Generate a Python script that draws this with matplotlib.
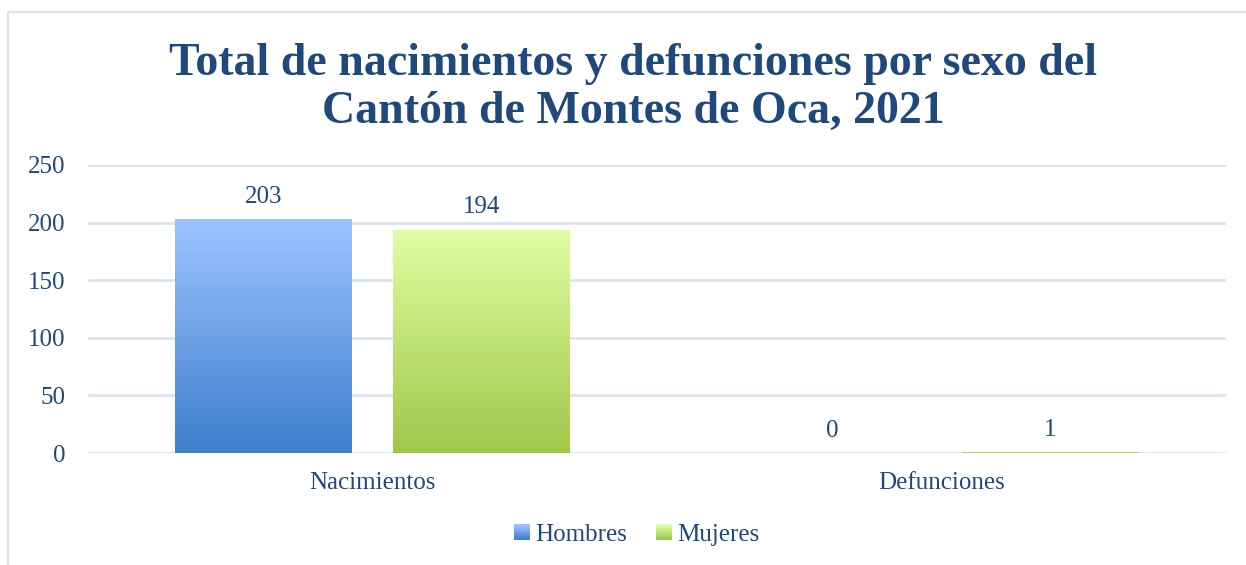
import numpy as np
import matplotlib
matplotlib.use("Agg")
import matplotlib.pyplot as plt
from matplotlib.colors import LinearSegmentedColormap
from matplotlib.patches import Rectangle, Patch
from matplotlib.legend_handler import HandlerBase

categories = ["Nacimientos", "Defunciones"]
series_names = ["Hombres", "Mujeres"]
hombres = [203, 0]
mujeres = [194, 1]
yticks = [0, 50, 100, 150, 200, 250]

title = "Total de nacimientos y defunciones por sexo del\nCantón de Montes de Oca, 2021"

text_color = "#1F497D"
grid_color = "#D9E3F1"
blue_top, blue_bot = "#9CC3FF", "#3E7FCC"
green_top, green_bot = "#DEFFA2", "#9FC74A"

plt.rcParams['font.family'] = ['Liberation Serif', 'DejaVu Serif']

fig = plt.figure(figsize=(12.46, 5.65), dpi=100)
W, H = 1246, 565
ax = fig.add_axes([88 / W, 1 - 453 / H, (1226 - 88) / W, (453 - 165) / H])

# border around chart
fig.patches.append(Rectangle((8 / W, -0.1), 1.2, 1 - 12 / H + 0.1, transform=fig.transFigure,
                             fill=False, edgecolor="#D5E2F2", linewidth=1.5))

x = np.arange(len(categories))
bw = 0.311
off = 0.1916

def gradient_bars(xs, vals, top, bot):
    bars = ax.bar(xs, vals, width=bw, color="none", edgecolor="none", zorder=3)
    cmap = LinearSegmentedColormap.from_list("g", [bot, top])
    grad = np.linspace(0, 1, 256).reshape(-1, 1)
    for b in bars:
        x0, y0 = b.get_x(), b.get_y()
        w, h = b.get_width(), b.get_height()
        if h <= 0:
            continue
        im = ax.imshow(grad, cmap=cmap, origin="lower", aspect="auto",
                       extent=(x0, x0 + w, y0, y0 + h), zorder=3,
                       interpolation="bilinear")
        im.set_clip_path(b)
    return bars

b1 = gradient_bars(x - off, hombres, blue_top, blue_bot)
b2 = gradient_bars(x + off, mujeres, green_top, green_bot)

for xs, vals in [(x - off, hombres), (x + off, mujeres)]:
    for xi, v in zip(xs, vals):
        ax.annotate(f"{v}", (xi, v), xytext=(0, 8), textcoords="offset points",
                    ha="center", va="bottom", fontsize=18, color=text_color)

ax.set_xlim(-0.5, 1.5)
ax.set_ylim(0, 250)
ax.set_yticks(yticks)
ax.set_xticks(x)
ax.set_xticklabels(categories)
ax.tick_params(axis="both", length=0, labelsize=18, colors=text_color)
ax.tick_params(axis="y", pad=16)
ax.tick_params(axis="x", pad=14)
for lab in ax.get_yticklabels():
    lab.set_horizontalalignment("right")
ax.grid(axis="y", color=grid_color, linewidth=2)
ax.set_axisbelow(True)
for s in ax.spines.values():
    s.set_visible(False)
ax.set_facecolor("none")

fig.text(633 / W, 1 - 88 / H, title, ha="center", va="center", fontsize=33,
         fontweight="bold", color=text_color, linespacing=1.2)


class GradientHandler(HandlerBase):
    def __init__(self, top, bot, n=12):
        super().__init__()
        self.top, self.bot, self.n = top, bot, n

    def create_artists(self, legend, orig_handle, xdescent, ydescent, width, height,
                       fontsize, trans):
        cmap = LinearSegmentedColormap.from_list("lg", [self.bot, self.top])
        side = min(width, height) * 1.15
        x0 = -xdescent + (width - side) / 2
        y0 = -ydescent + (height - side) / 2
        arts = []
        for i in range(self.n):
            r = Rectangle((x0, y0 + side * i / self.n), side, side / self.n + 0.3,
                          facecolor=cmap(i / (self.n - 1)), edgecolor="none",
                          transform=trans)
            arts.append(r)
        return arts


h1 = Patch(facecolor=blue_bot)
h2 = Patch(facecolor=green_bot)
fig.legend([h1, h2], series_names, loc="center", bbox_to_anchor=(637 / W, 1 - 535 / H),
           ncol=2, frameon=False, fontsize=18, labelcolor=text_color,
           handlelength=0.55, handleheight=0.55, handletextpad=0.25, columnspacing=1.2,
           handler_map={h1: GradientHandler(blue_top, blue_bot),
                        h2: GradientHandler(green_top, green_bot)})

fig.savefig("out.png", dpi=100)
